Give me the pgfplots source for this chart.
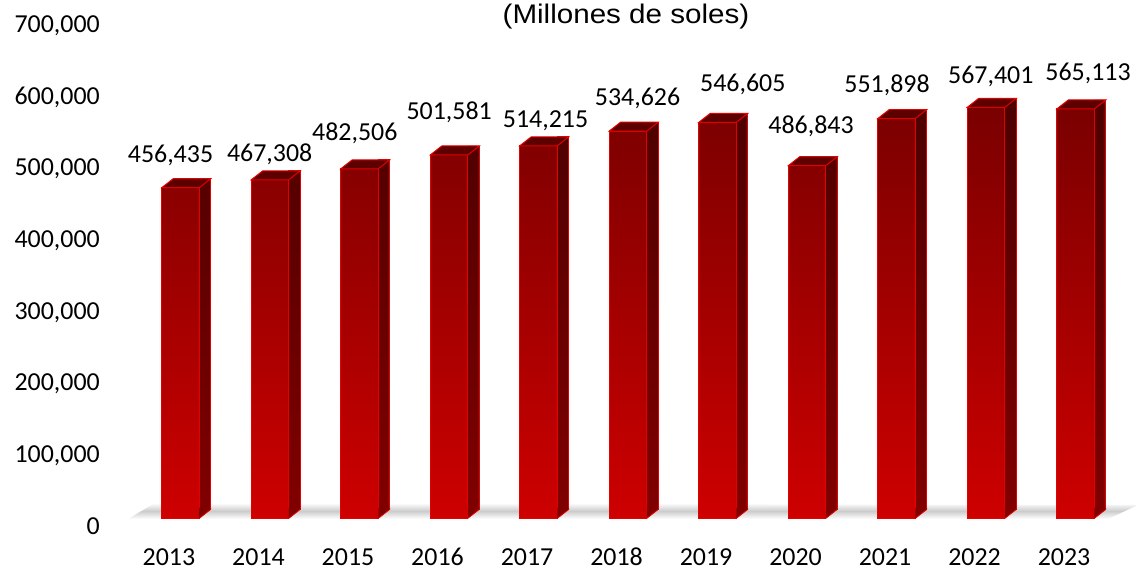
\documentclass[border=0pt]{standalone}
\usepackage{fontspec}
\setmainfont{Carlito}
\newfontfamily\titlefont[FakeStretch=1.10]{Liberation Sans}
\usepackage{pgfplots}
\pgfplotsset{compat=1.18}
\usepackage{pgfplotstable}

\definecolor{frontTop}{RGB}{122,0,0}
\definecolor{frontBot}{RGB}{206,0,0}
\definecolor{sideTop}{RGB}{76,0,0}
\definecolor{sideBot}{RGB}{128,0,0}
\definecolor{topFace}{RGB}{92,0,0}
\definecolor{edgeRed}{RGB}{226,0,0}

\pgfplotstableread{
x v dx dy
0 456435 1.5 25
1 467308 11.2 18.1
2 482506 6.8 28.8
3 501581 11.7 35.7
4 514215 18.5 18.6
5 534626 21 25.1
6 546605 36.8 30.7
7 486843 15.5 32.4
8 551898 2 25.9
9 567401 16.3 24
10 565113 24 28.3
}\data

\pgfdeclareplotmark{topface}{%
  \pgfpathmoveto{\pgfpoint{-7.25bp}{0bp}}%
  \pgfpathlineto{\pgfpoint{30.25bp}{0bp}}%
  \pgfpathlineto{\pgfpoint{41.75bp}{9bp}}%
  \pgfpathlineto{\pgfpoint{4.25bp}{9bp}}%
  \pgfpathclose
  \pgfusepath{fill,stroke}%
}
\pgfdeclareplotmark{sidebottom}{%
  \pgfpathmoveto{\pgfpoint{30.25bp}{0bp}}%
  \pgfpathlineto{\pgfpoint{41.75bp}{9bp}}%
  \pgfpathlineto{\pgfpoint{41.75bp}{10.5bp}}%
  \pgfpathlineto{\pgfpoint{30.25bp}{10.5bp}}%
  \pgfpathclose
  \pgfusepath{fill}%
  \pgfpathmoveto{\pgfpoint{30.25bp}{0bp}}%
  \pgfpathlineto{\pgfpoint{41.75bp}{9bp}}%
  \pgfpathlineto{\pgfpoint{41.75bp}{10.5bp}}%
  \pgfusepath{stroke}%
}

\begin{document}
\begin{tikzpicture}
\useasboundingbox (0,0) rectangle (1136bp,569bp);
% floor shadow
\shade[top color=white, bottom color=white, middle color=black!20]
  (128bp,50bp) -- (155bp,66bp) -- (1138bp,64bp) -- (1108bp,50bp) -- cycle;

% axis with tick labels
\begin{axis}[at={(0,0)}, anchor=south west, scale only axis,
  width=1136bp, height=569bp,
  xmin=-1.888, xmax=10.804, ymin=-59964, ymax=733510,
  axis line style={draw=none}, major tick length=0pt,
  xtick={0,...,10},
  xticklabels={2013,2014,2015,2016,2017,2018,2019,2020,2021,2022,2023},
  ytick={0,100000,...,700000},
  scaled y ticks=false,
  /pgf/number format/assume math mode=true,
  y tick label style={/pgf/number format/fixed, /pgf/number format/1000 sep={,}},
  tick label style={font=\fontsize{26}{30}\selectfont},
  yticklabel style={anchor=east, inner sep=0pt, text depth=0pt, xshift=100bp},
  xticklabel style={anchor=center, inner sep=0pt, text depth=0pt, yshift=12bp},
]
\end{axis}

% axis with 3D bars
\begin{axis}[at={(0,0)}, anchor=south west, scale only axis,
  width=1136bp, height=569bp,
  xmin=-1.888, xmax=10.804, ymin=-69841, ymax=715528,
  hide axis, clip=false,
  /pgf/number format/assume math mode=true,
]
% side faces
\addplot[ybar, bar width=11.5bp, bar shift=36bp, yshift=9bp,
  draw=edgeRed, line width=0.8bp, top color=sideTop, bottom color=sideBot]
  table[x=x, y=v] {\data};
% bottom of side faces
\addplot[only marks, mark=sidebottom,
  mark options={fill=sideBot, draw=edgeRed, line width=0.8bp}]
  table[x=x, y expr=0] {\data};
% front faces
\addplot[ybar, bar width=37.5bp, bar shift=11.5bp,
  draw=edgeRed, line width=1bp, top color=frontTop, bottom color=frontBot]
  table[x=x, y=v] {\data};
% top faces + labels
\addplot[only marks, mark=topface,
  mark options={fill=topFace, draw=edgeRed, line width=1bp},
  visualization depends on={\thisrow{dx} \as \lbldx},
  visualization depends on={\thisrow{dy} \as \lbldy},
  nodes near coords={\pgfmathprintnumber[fixed, 1000 sep={,}]{\pgfplotspointmeta}},
  nodes near coords align={center},
  every node near coord/.append style={font=\fontsize{26}{30}\selectfont,
    anchor=base, inner sep=0pt, xshift=\lbldx bp, yshift=\lbldy bp, text=black},
]
  table[x=x, y=v] {\data};
\end{axis}

\node[anchor=base, inner sep=0pt, font=\titlefont\fontsize{27}{30}\selectfont]
  at (626bp,545bp) {(Millones de soles)};
\end{tikzpicture}
\end{document}
